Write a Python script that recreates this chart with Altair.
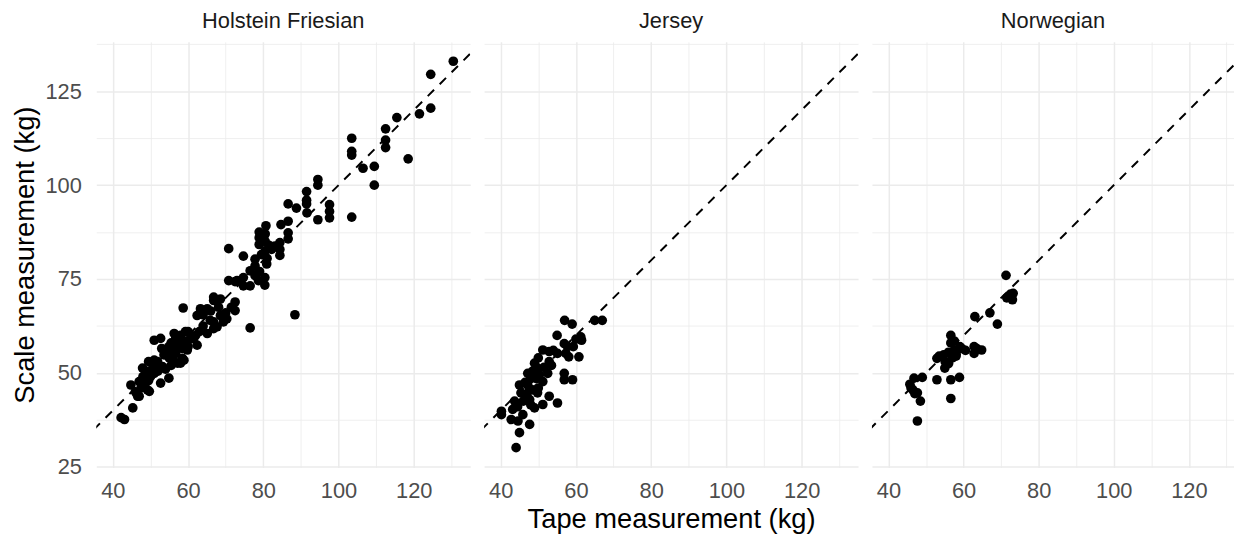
import altair as alt
import pandas as pd

# ---------------- data ----------------
breeds = ["Holstein Friesian", "Jersey", "Norwegian"]

hf_tape = [130.5, 124.5, 124.5, 121.5, 115.5, 112.5, 112.5, 112.5, 118.5, 103.5,
           103.5, 103.5, 106.5, 109.5, 109.5, 103.5, 94.5, 94.5, 91.5, 91.5,
           91.5, 91.6, 94.5, 97.6, 97.6, 97.6, 88.8, 86.6, 86.6, 84.7,
           86.6, 86.6, 88.4,
           80.7, 78.9, 78.9, 78.9, 80.5, 80.5, 81.5, 84.4, 84.4, 84.4,
           83.1, 82.2, 80.9, 77.8, 77.8, 76.5, 77.8, 74.7, 74.7, 76.5,
           78.7, 80.4, 80.4, 79.0, 72.5, 70.8, 70.8, 74.7, 76.5, 73.0,
           79.5, 80.5, 81.0,
           72.5, 68.6, 66.8, 63.3, 65.1, 68.6, 70.3, 66.8, 62.4, 66.8,
           65.1, 68.1, 72.5, 63.3, 65.9, 69.4, 67.7, 62.4, 61.5, 66.8,
           58.7, 64.0, 66.0, 70.0, 71.5, 64.0, 63.0, 62.0, 60.0, 60.5,
           58.0, 56.7, 59.3, 56.3, 58.5, 58.5, 58.0, 56.7, 54.9, 52.7,
           51.0, 53.6, 51.9, 51.0, 53.2, 54.9, 52.7, 58.0, 59.8, 54.1,
           51.0, 57.2, 58.9, 51.0, 55.0, 56.0, 57.0, 53.0, 55.5, 52.0,
           54.0, 56.0, 59.0, 60.0, 57.5, 55.5,
           47.9, 49.2, 44.8, 47.0, 49.2, 47.0, 45.3, 42.2, 43.1, 48.8,
           47.5, 49.7, 46.6, 48.0, 49.5, 46.0, 48.5, 50.0, 50.5, 49.5]
hf_scale = [133.0, 129.5, 120.5, 119.0, 118.0, 115.0, 112.0, 110.0, 107.0, 112.5,
            109.0, 108.0, 104.5, 105.0, 100.0, 91.5, 101.5, 100.0, 98.3, 96.0,
            95.0, 92.6, 90.8, 94.8, 93.0, 91.3, 93.9, 95.0, 90.4, 89.5,
            87.3, 85.7, 65.5,
            89.2, 87.5, 86.0, 84.2, 87.0, 85.0, 84.0, 84.7, 82.9, 81.3,
            83.8, 82.9, 79.0, 80.3, 78.5, 77.2, 75.9, 75.4, 73.2, 73.2,
            74.6, 75.4, 73.4, 77.0, 74.3, 74.6, 83.1, 81.1, 62.0, 74.6,
            81.5, 82.5, 80.5,
            68.9, 69.7, 69.3, 67.1, 67.1, 65.3, 64.4, 63.6, 65.3, 61.8,
            60.5, 67.5, 66.6, 66.2, 64.0, 63.6, 62.3, 57.4, 59.2, 70.2,
            67.3, 65.5, 66.5, 66.0, 67.5, 62.5, 61.0, 60.0, 61.0, 59.0,
            60.0, 59.2, 61.0, 60.5, 56.5, 53.9, 52.6, 55.2, 57.0, 59.2,
            58.7, 54.8, 53.0, 52.6, 51.7, 48.6, 47.3, 57.4, 56.1, 55.7,
            53.4, 52.6, 53.4, 49.9, 54.0, 56.0, 58.0, 56.5, 52.0, 50.5,
            51.0, 54.0, 58.5, 57.0, 57.0, 58.0,
            51.3, 50.4, 46.8, 47.7, 45.5, 43.8, 40.7, 38.1, 37.6, 48.6,
            46.0, 45.1, 43.8, 49.0, 48.0, 45.0, 47.0, 49.0, 51.0, 53.0]

je_tape = [57.0, 59.0, 65.0, 67.0, 55.0, 61.3, 61.5, 60.0, 56.9, 57.8,
           59.3, 60.8, 57.3, 58.1, 55.1, 52.9, 51.2, 52.9, 49.0, 49.8,
           47.2, 52.5, 50.3, 51.2, 49.5, 48.0, 45.0, 47.2, 48.5, 45.4,
           47.0, 49.8, 47.7, 52.9, 55.1, 56.9, 56.9, 59.1, 43.7, 43.2,
           40.2, 40.2, 42.8, 44.6, 47.7, 45.9, 49.0, 45.0, 44.1, 51.2,
           50.0, 51.5, 53.5, 46.5, 48.5, 50.0, 54.0, 44.5, 46.0, 48.0]
je_scale = [64.0, 63.0, 64.0, 64.0, 60.0, 59.6, 58.7, 59.0, 57.8, 57.0,
            57.0, 54.3, 55.2, 54.3, 55.2, 55.7, 56.1, 53.0, 52.6, 51.3,
            49.9, 49.9, 49.5, 47.7, 48.5, 48.5, 46.8, 46.8, 45.5, 44.7,
            44.5, 44.7, 42.9, 43.8, 42.0, 49.9, 48.2, 48.2, 42.5, 40.3,
            39.8, 38.9, 37.6, 37.2, 36.3, 38.9, 40.7, 34.1, 30.1, 41.6,
            46.0, 51.5, 52.0, 47.5, 50.5, 54.0, 56.0, 41.0, 42.5, 41.5]

no_tape = [71.3, 71.5, 72.5, 73.2, 73.0, 63.0, 67.0, 69.0, 56.6, 56.6,
           57.5, 62.8, 64.8, 62.8, 63.5, 58.2, 59.5, 60.5, 54.7, 52.9,
           55.1, 55.0, 56.0, 57.0, 57.5, 58.0, 59.0, 56.0, 53.5, 52.9,
           56.6, 58.9, 56.6, 46.8, 49.0, 45.7, 46.5, 47.0, 47.7, 48.5,
           47.7, 46.0, 58.0]
no_scale = [76.0, 70.0, 71.0, 71.2, 69.5, 65.0, 66.0, 63.0, 60.0, 58.0,
            58.5, 57.0, 56.1, 55.2, 56.5, 56.1, 56.5, 56.0, 54.8, 53.9,
            53.0, 51.3, 55.5, 54.0, 56.0, 55.0, 57.0, 52.5, 54.5, 48.2,
            48.2, 48.8, 43.2, 48.6, 48.8, 47.0, 45.5, 44.5, 44.7, 42.5,
            37.2, 46.0, 54.5]

x_grid = [40, 50, 60, 70, 80, 90, 100, 110, 120, 130]
y_grid = [25, 37.5, 50, 62.5, 75, 87.5, 100, 112.5, 125, 137.5]
x_domain = [35.6, 135.0]
x_domain_cut = [35.6, 132.0]   # right panel is cropped by the picture edge
y_domain = [24.85, 138.15]
abline_from = [0]
abline_to = [200]

FONT = "Liberation Sans, Arial, sans-serif"
GRID = "#EBEBEB"

series = {
    "Holstein Friesian": (hf_tape, hf_scale),
    "Jersey": (je_tape, je_scale),
    "Norwegian": (no_tape, no_scale),
}

line_df = pd.DataFrame({"tape": abline_from, "scale": abline_from,
                        "tape_end": abline_to, "scale_end": abline_to})


def panel(name, width, xdom, first, middle):
    t, s = series[name]
    df = pd.DataFrame({"tape": t, "scale": s})
    xaxis_kw = dict(
        values=x_grid,
        labelExpr="datum.value % 20 === 0 ? datum.label : ''",
        labelFontSize=22, labelColor="#4D4D4D", labelFont=FONT,
        labelPadding=13, ticks=False, domain=False,
        gridColor=GRID,
        gridWidth={"condition": {"test": "datum.value % 20 === 0", "value": 1.5}, "value": 0.8},
        titleFontSize=27.5, titleFontWeight="normal", titleColor="#000000",
        titleFont=FONT, titlePadding=5,
        title="Tape measurement (kg)" if middle else None,
    )
    if first:
        yaxis = alt.Axis(
            values=y_grid,
            labelExpr="datum.value % 25 === 0 ? datum.label : ''",
            labelFontSize=22, labelColor="#4D4D4D", labelFont=FONT,
            labelPadding=15, ticks=False, domain=False,
            gridColor=GRID,
            gridWidth={"condition": {"test": "datum.value % 25 === 0", "value": 1.5}, "value": 0.8},
            title="Scale measurement (kg)", titleFontSize=27.5,
            titleFontWeight="normal", titleColor="#000000", titleFont=FONT,
            titlePadding=6,
        )
    else:
        yaxis = alt.Axis(
            values=y_grid, labels=False, ticks=False, domain=False,
            gridColor=GRID,
            gridWidth={"condition": {"test": "datum.value % 25 === 0", "value": 1.5}, "value": 0.8},
            title=None,
        )
    xenc = alt.X("tape:Q", scale=alt.Scale(domain=xdom, nice=False, zero=False),
                 axis=alt.Axis(**xaxis_kw))
    yenc = alt.Y("scale:Q", scale=alt.Scale(domain=y_domain, nice=False, zero=False),
                 axis=yaxis)
    pts = alt.Chart(df).mark_circle(size=95, color="#000000", opacity=1).encode(x=xenc, y=yenc)
    line = alt.Chart(line_df).mark_rule(
        clip=True, color="#000000", strokeWidth=2, strokeDash=[9, 8]
    ).encode(x=xenc, y=yenc, x2="tape_end:Q", y2="scale_end:Q")
    return alt.layer(pts, line).properties(
        width=width, height=429,
        title=alt.TitleParams(text=name, fontSize=22, font=FONT, fontWeight="normal",
                              color="#1A1A1A", anchor="middle", offset=9),
    )


p1 = panel("Holstein Friesian", 377, x_domain, True, False)
p2 = panel("Jersey", 377, x_domain, False, True)
p3 = panel("Norwegian", 365, x_domain_cut, False, False)

chart = alt.hconcat(p1, p2, p3, spacing=14).properties(
    padding={"left": 3, "top": 0, "right": 0, "bottom": 0}, background="white"
).configure_view(stroke=None)

chart.save("out.html", embed_options={"renderer": "svg", "actions": False})
